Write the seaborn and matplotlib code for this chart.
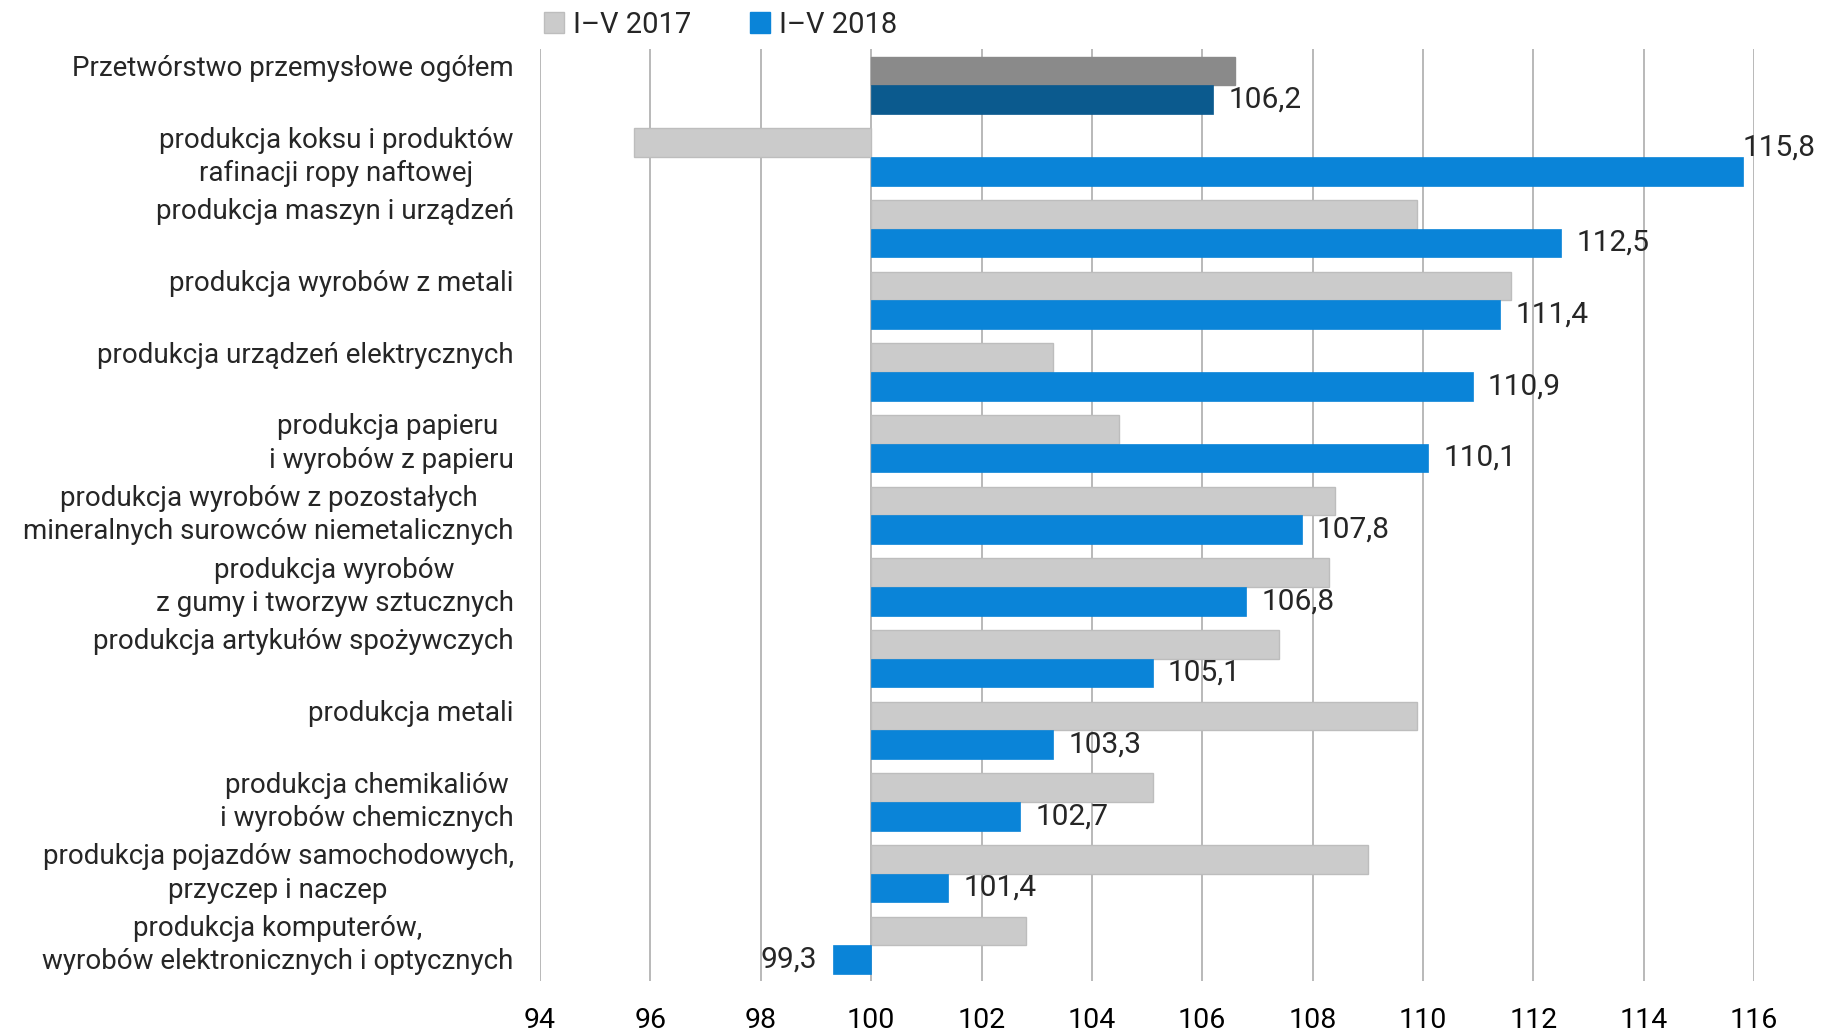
import pandas as pd
import numpy as np
import matplotlib
matplotlib.use("Agg")
import matplotlib.pyplot as plt
import seaborn as sns

# data
categories = [
    "Przetwórstwo przemysłowe ogółem\n",
    "produkcja koksu i produktów\nrafinacji ropy naftowej",
    "produkcja maszyn i urządzeń\n",
    "produkcja wyrobów z metali\n",
    "produkcja urządzeń elektrycznych\n",
    "produkcja papieru \ni wyrobów z papieru",
    "produkcja wyrobów z pozostałych\nmineralnych surowców niemetalicznych",
    "produkcja wyrobów\nz gumy i tworzyw sztucznych",
    "produkcja artykułów spożywczych\n",
    "produkcja metali\n",
    "produkcja chemikaliów\ni wyrobów chemicznych",
    "produkcja pojazdów samochodowych,\nprzyczep i naczep",
    "produkcja komputerów,\nwyrobów elektronicznych i optycznych",
]
vals_2017 = [106.6, 95.7, 109.9, 111.6, 103.3, 104.5, 108.4, 108.3, 107.4, 109.9, 105.1, 109.0, 102.8]
vals_2018 = [106.2, 115.8, 112.5, 111.4, 110.9, 110.1, 107.8, 106.8, 105.1, 103.3, 102.7, 101.4, 99.3]
series = ["I–V 2017", "I–V 2018"]
base = 100
xticks = list(range(94, 117, 2))

df = pd.DataFrame({
    "kategoria": categories * 2,
    "okres": [series[0]] * len(categories) + [series[1]] * len(categories),
    "wartosc": vals_2017 + vals_2018,
})
df["odchylenie"] = df["wartosc"] - base

sns.set_theme(style="white")
plt.rcParams["font.family"] = ["Roboto", "DejaVu Sans"]

fig = plt.figure(figsize=(18.29, 10.31), dpi=100)
ax = fig.add_axes([0.2953, 0.0485, 0.6637, 0.9035])

grey = "#cbcbcb"
blue = "#0a84d8"
sns.barplot(data=df, x="odchylenie", y="kategoria", hue="okres", order=categories,
            hue_order=series, palette=[grey, blue], orient="h", width=0.8,
            ax=ax, legend=False, saturation=1)

for bar in ax.containers[0]:
    bar.set_edgecolor("#bdbdbd")
    bar.set_linewidth(1)
for bar in ax.containers[1]:
    bar.set_edgecolor(blue)
    bar.set_linewidth(0.5)
ax.containers[0][0].set_facecolor("#8a8a8a")
ax.containers[0][0].set_edgecolor("#8a8a8a")
ax.containers[1][0].set_facecolor("#0b5a8e")
ax.containers[1][0].set_edgecolor("#0b5a8e")

ax.set_xlim(xticks[0] - base, xticks[-1] - base)
ax.set_xticks([t - base for t in xticks])
ax.set_xticklabels([str(t) for t in xticks], fontsize=20.5)
ax.set_ylim(len(categories) - 0.5, -0.5)
ax.xaxis.grid(True, color="#a6a6a6", linewidth=1.1)
ax.set_axisbelow(True)
for s in ax.spines.values():
    s.set_visible(False)
ax.tick_params(axis="x", length=0, pad=19, colors="black")
ax.set_yticks(range(len(categories)))
ax.set_yticklabels([])
ax.tick_params(axis="y", length=0)
ax.set_xlabel("")
ax.set_ylabel("")

# category labels, centred multi-line blocks right-aligned to the plot
for i, name in enumerate(categories):
    ax.annotate(name, (0, i), xycoords=("axes fraction", "data"),
                xytext=(-19, 0), textcoords="offset points",
                ha="right", va="center", multialignment="center",
                fontsize=20, linespacing=1.3)

# value labels for 2018
for bar, v in zip(ax.containers[1], vals_2018):
    y = bar.get_y() + bar.get_height() / 2
    txt = f"{v:.1f}".replace(".", ",")
    if v - base >= xticks[-1] - base - 0.5:
        ax.annotate(txt, (v - base, y), xytext=(0, 17), textcoords="offset points",
                    ha="left", va="center", fontsize=21.5, annotation_clip=False)
    elif v < base:
        ax.annotate(txt, (v - base, y), xytext=(-11, 0), textcoords="offset points",
                    ha="right", va="center", fontsize=21.5)
    else:
        ax.annotate(txt, (v - base, y), xytext=(11, 0), textcoords="offset points",
                    ha="left", va="center", fontsize=21.5)

handles = [plt.Rectangle((0, 0), 1, 1, facecolor=grey, edgecolor="#bdbdbd"),
           plt.Rectangle((0, 0), 1, 1, facecolor=blue, edgecolor=blue)]
fig.legend(handles, series, loc="center", bbox_to_anchor=(0.394, 0.976), ncol=2,
           frameon=False, fontsize=21, handlelength=0.7, handleheight=0.7,
           handletextpad=0.3, columnspacing=2.0)

fig.savefig("out.png", dpi=100)
